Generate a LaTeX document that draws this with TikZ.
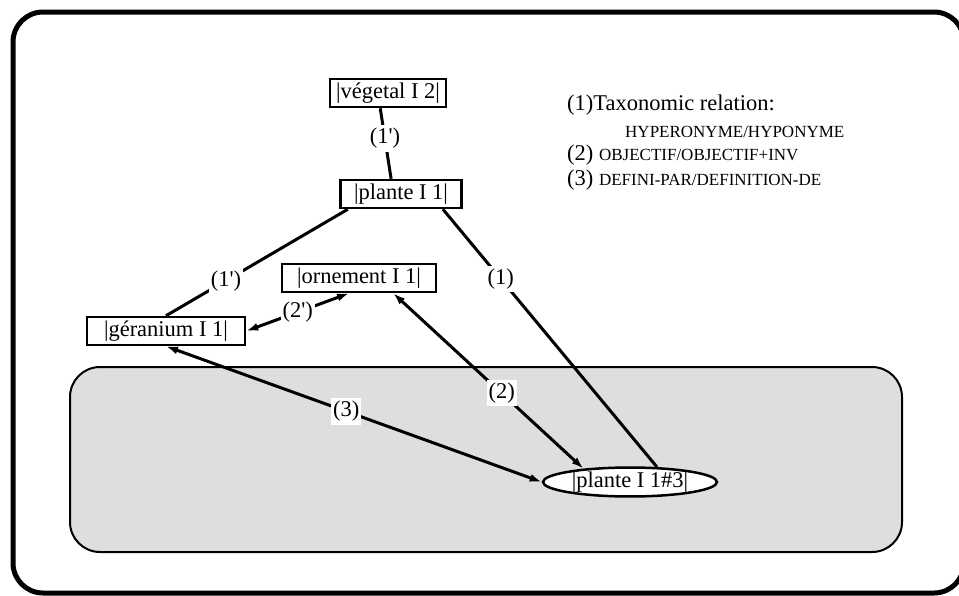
\documentclass[tikz,border=0pt]{standalone}
\usepackage{fontspec}
\setmainfont{Liberation Serif}
\usetikzlibrary{shapes.geometric,arrows.meta}
\definecolor{boxgray}{RGB}{222,222,222}
\newcommand{\relname}[1]{{\fontsize{17}{20}\selectfont #1}}
\newcommand{\rprime}{\textquotesingle}

\begin{document}
\begin{tikzpicture}[x=1pt,y=-1pt,
    font=\fontsize{22.5}{27}\selectfont,
    >={Latex[length=12pt,width=8pt]},
    sense/.style={draw,line width=2.5pt,minimum height=28pt,inner xsep=4pt,inner ysep=0pt},
    occ/.style={ellipse,draw,line width=2.5pt,fill=white,minimum width=174pt,minimum height=28pt,inner sep=0pt},
    rel/.style={line width=3pt},
    lab/.style={fill=white,inner xsep=2pt,inner ysep=3pt},
    legend/.style={anchor=base west,inner sep=0pt}]
  \useasboundingbox (0,0) rectangle (959,595);

  % Frames
  \begin{scope}
    \clip (0,0) rectangle (959,595);
    \draw[line width=5pt,rounded corners=30pt] (13,12) rectangle (964,593);
  \end{scope}
  \draw[line width=2pt,rounded corners=30pt,fill=boxgray] (70,367) rectangle (902,552);

  % Define vertices
  \node[sense,minimum width=116pt] (vegetal) at (388,93) {|végetal I 2|};
  \node[sense,minimum width=121pt] (plante) at (401,194) {|plante I 1|};
  \node[sense,minimum width=154pt] (ornement) at (359,278) {|ornement I 1|};
  \node[sense,minimum width=158pt] (geranium) at (166,331) {|géranium I 1|};
  \node[occ] (plante3) at (630,482) {|plante I 1\#3|};

  % Draw edges
  \path[rel]
    (vegetal.243) edge node[lab,pos=0.43] {(1\rprime)} (plante.123)
    (plante.196) edge node[lab,pos=0.67] {(1\rprime)} (geranium.north)
    (plante.340) edge node[lab,pos=0.27] {(1)} (plante3.29)
    (ornement.237) edge[<->] node[lab,pos=0.5] {(2\rprime)} (geranium.east)
    (ornement.336) edge[<->] node[lab,pos=0.57] {(2)} (plante3.164)
    (geranium.south) edge[<->] node[lab,pos=0.48] {(3)} (plante3.west);

  % Legend
  \node[legend] (leg1) at (567,110) {(1)Taxonomic relation:};
  \node[legend] (leg1b) at (625,137) {\relname{HYPERONYME/HYPONYME}};
  \node[legend] (leg2) at (567,160) {(2) \relname{OBJECTIF/OBJECTIF+INV}};
  \node[legend] (leg3) at (567,185) {(3) \relname{DEFINI-PAR/DEFINITION-DE}};

\end{tikzpicture}
\end{document}
